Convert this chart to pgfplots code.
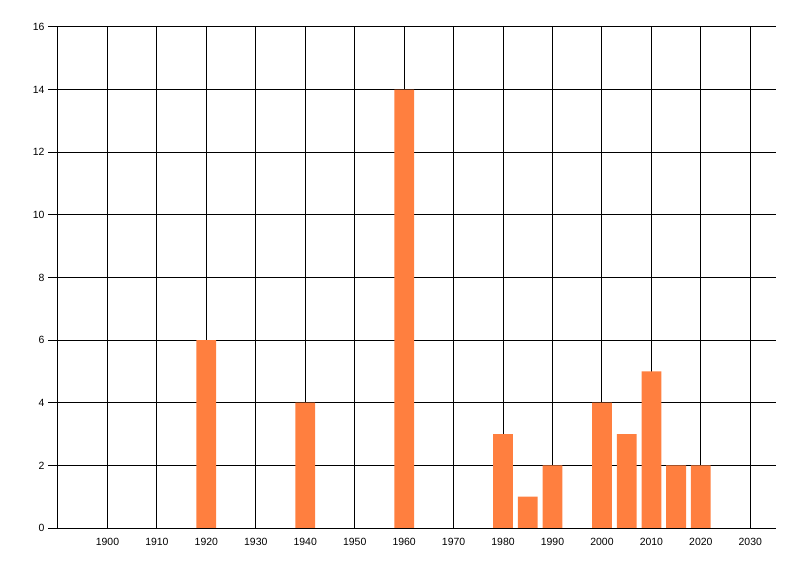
\documentclass[border=0pt]{standalone}
\usepackage{fontspec}
\setmainfont{Liberation Sans}
\usepackage{pgfplots}
\pgfplotsset{compat=1.18}
\definecolor{barorange}{RGB}{255,127,63}
\begin{document}
\begin{tikzpicture}[x=1bp,y=1bp]
\begin{axis}[
  at={(0,0)}, anchor=south west,
  scale only axis, width=718bp, height=501bp,
  xmin=1890, xmax=2035.2, ymin=0, ymax=16,
  xtick={1900,1910,...,2030}, ytick={0,2,...,16},
  grid=major, major grid style={black, line width=1bp},
  axis x line*=bottom, axis y line*=left,
  axis line style={-, black, line width=1bp},
  x tick style={draw=none}, y tick style={black, line width=1bp},
  tick align=outside, major tick length=10bp,
  ticklabel style={font=\fontsize{10.5}{12}\selectfont},
  xticklabel style={yshift=3bp},
  /pgf/number format/assume math mode=true,
  /pgf/number format/1000 sep={},
  ybar, bar width=4,
]
\addplot[fill=barorange, draw=none] coordinates {
  (1920,6) (1940,4) (1960,14) (1980,3) (1985,1) (1990,2)
  (2000,4) (2005,3) (2010,5) (2015,2) (2020,2)};
\end{axis}
\path (-58bp,-48bp) rectangle (742bp,528bp);
\end{tikzpicture}
\end{document}
